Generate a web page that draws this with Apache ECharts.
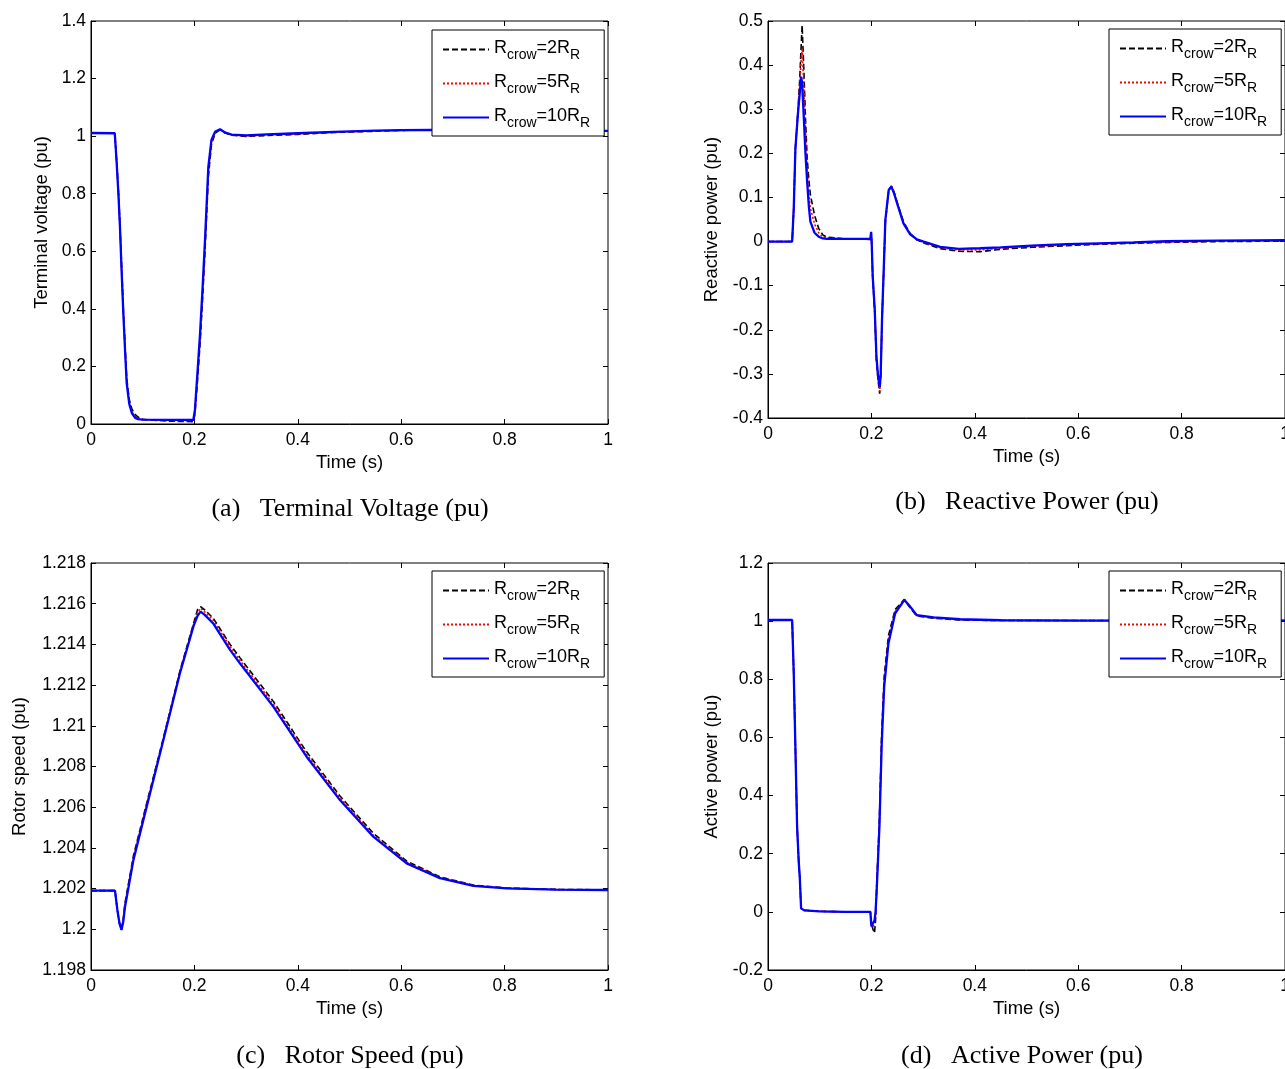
<!DOCTYPE html>
<html>
<head>
<meta charset="utf-8">
<script src="https://cdn.jsdelivr.net/npm/echarts@6/dist/echarts.min.js"></script>
<style>
  html, body { margin: 0; padding: 0; background: #fff; }
  #main { width: 1285px; height: 1069px; }
</style>
</head>
<body>
<div id="main"></div>
<script>
// series names (legend)
var names = ['Rcrow=2RR', 'Rcrow=5RR', 'Rcrow=10RR'];

// (a) terminal voltage
var tV = [0, 0.046, 0.0497, 0.053, 0.056, 0.059, 0.0625, 0.066, 0.069, 0.074,
  0.079, 0.085, 0.091, 0.1, 0.15, 0.198, 0.201, 0.206, 0.211, 0.216,
  0.2205, 0.227, 0.233, 0.24, 0.2495, 0.26, 0.272, 0.3, 0.34, 0.4,
  0.47, 0.55, 0.6, 0.66, 0.75, 0.85, 0.95, 1.0];
var volt2 = [1.011, 1.010, 0.91, 0.81, 0.69, 0.56, 0.40, 0.27, 0.16, 0.085,
  0.052, 0.034, 0.024, 0.016, 0.010, 0.008, 0.035, 0.15, 0.28, 0.44,
  0.60, 0.86, 0.97, 1.01, 1.022, 1.011, 1.003, 0.999, 1.002, 1.006,
  1.013, 1.017, 1.020, 1.021, 1.021, 1.020, 1.019, 1.018];
var volt5 = [1.011, 1.010, 0.91, 0.81, 0.69, 0.55, 0.39, 0.26, 0.15, 0.075,
  0.042, 0.026, 0.019, 0.015, 0.012, 0.011, 0.04, 0.17, 0.30, 0.46,
  0.62, 0.88, 0.98, 1.012, 1.023, 1.012, 1.004, 1.001, 1.004, 1.008,
  1.014, 1.018, 1.020, 1.021, 1.021, 1.020, 1.019, 1.018];
var volt10 = [1.011, 1.010, 0.906, 0.80, 0.685, 0.54, 0.386, 0.25, 0.142, 0.07,
  0.038, 0.022, 0.017, 0.015, 0.014, 0.014, 0.049, 0.18, 0.316, 0.48,
  0.639, 0.894, 0.987, 1.015, 1.024, 1.012, 1.005, 1.003, 1.006, 1.010,
  1.015, 1.019, 1.021, 1.022, 1.021, 1.020, 1.019, 1.018];

// (b) reactive power
var tQ = [0, 0.0467, 0.0498, 0.053, 0.0577, 0.061, 0.064, 0.066, 0.069, 0.0725,
  0.0757, 0.079, 0.082, 0.09, 0.098, 0.106, 0.114, 0.15, 0.198, 0.1995,
  0.2005, 0.2026, 0.2065, 0.2097, 0.213, 0.216, 0.218, 0.2205, 0.2238, 0.227,
  0.2335, 0.2386, 0.2436, 0.2496, 0.262, 0.275, 0.288, 0.301, 0.333, 0.369,
  0.41, 0.45, 0.51, 0.578, 0.64, 0.707, 0.77, 0.87, 1.0];
var react2 = [0, 0, 0.075, 0.211, 0.29, 0.36, 0.44, 0.49, 0.40, 0.28,
  0.19, 0.14, 0.106, 0.06, 0.03, 0.015, 0.01, 0.006, 0.005, 0.02,
  -0.005, -0.085, -0.16, -0.27, -0.315, -0.345, -0.31, -0.18, -0.07, 0.045,
  0.115, 0.126, 0.113, 0.09, 0.045, 0.018, 0.004, -0.003, -0.016, -0.022,
  -0.023, -0.0175, -0.013, -0.0093, -0.006, -0.0039, -0.002, 0.0, 0.001];
var react5 = [0, 0, 0.075, 0.211, 0.29, 0.35, 0.41, 0.435, 0.36, 0.25,
  0.165, 0.11, 0.075, 0.04, 0.02, 0.01, 0.008, 0.006, 0.005, 0.021,
  -0.003, -0.083, -0.158, -0.266, -0.31, -0.34, -0.305, -0.18, -0.067, 0.047,
  0.117, 0.126, 0.112, 0.089, 0.043, 0.017, 0.004, -0.002, -0.014, -0.019,
  -0.019, -0.015, -0.011, -0.0075, -0.005, -0.003, -0.001, 0.001, 0.002];
var react10 = [0, 0, 0.075, 0.211, 0.287, 0.33, 0.374, 0.36, 0.287, 0.2,
  0.136, 0.08, 0.045, 0.02, 0.011, 0.007, 0.006, 0.006, 0.006, 0.022,
  0.0, -0.08, -0.155, -0.261, -0.306, -0.329, -0.30, -0.178, -0.064, 0.049,
  0.117, 0.1245, 0.11, 0.087, 0.041, 0.0165, 0.005, 0.0, -0.012, -0.0165,
  -0.0152, -0.013, -0.0093, -0.006, -0.0039, -0.002, 0.0007, 0.002, 0.003];

// (c) rotor speed
var tW = [0, 0.0464, 0.051, 0.055, 0.059, 0.0625, 0.0658, 0.082, 0.1077, 0.14,
  0.172, 0.198, 0.206, 0.212, 0.22, 0.236, 0.269, 0.288, 0.3527, 0.417,
  0.4816, 0.546, 0.6106, 0.675, 0.7395, 0.804, 0.9, 1.0];
var speed2 = [1.2019, 1.2019, 1.20095, 1.2003, 1.2000, 1.2005, 1.2013, 1.2036, 1.2062, 1.2094,
  1.2127, 1.2150, 1.2157, 1.21585, 1.2157, 1.2153, 1.2140, 1.21335, 1.2112, 1.20872,
  1.20655, 1.20472, 1.20335, 1.20258, 1.20217, 1.20203, 1.20196, 1.20194];
var speed5 = [1.2019, 1.2019, 1.20095, 1.2003, 1.19998, 1.20045, 1.2012, 1.2035, 1.20612, 1.20935,
  1.21264, 1.21495, 1.21555, 1.21578, 1.2156, 1.2152, 1.2139, 1.21322, 1.21107, 1.2086,
  1.20645, 1.20463, 1.2033, 1.20255, 1.20215, 1.20202, 1.20195, 1.20193];
var speed10 = [1.2019, 1.2019, 1.20095, 1.2003, 1.19997, 1.2004, 1.20111, 1.2034, 1.20602, 1.2093,
  1.21258, 1.21487, 1.2154, 1.21561, 1.21545, 1.21504, 1.21373, 1.21307, 1.21094, 1.20848,
  1.20635, 1.20455, 1.20324, 1.20251, 1.20213, 1.20201, 1.20195, 1.20193];

// (d) active power
var tP = [0, 0.0467, 0.0498, 0.0531, 0.0563, 0.0595, 0.0614, 0.064, 0.07, 0.1,
  0.15, 0.198, 0.2, 0.203, 0.206, 0.208, 0.21, 0.2155, 0.22, 0.2247,
  0.233, 0.246, 0.2638, 0.275, 0.2875, 0.3204, 0.372, 0.45, 0.6, 0.8, 1.0];
var power2 = [1.004, 1.004, 0.821, 0.557, 0.293, 0.17, 0.121, 0.014, 0.006, 0.002,
  0.0, 0.0, -0.04, -0.06, -0.073, -0.03, 0.08, 0.32, 0.62, 0.81,
  0.95, 1.04, 1.075, 1.045, 1.018, 1.01, 1.004, 1.002, 1.002, 1.002, 1.002];
var power5 = [1.004, 1.004, 0.821, 0.557, 0.293, 0.17, 0.121, 0.013, 0.005, 0.002,
  0.0, 0.0, -0.045, -0.055, -0.06, -0.02, 0.07, 0.30, 0.60, 0.79,
  0.935, 1.033, 1.074, 1.048, 1.02, 1.012, 1.005, 1.003, 1.002, 1.002, 1.002];
var power10 = [1.004, 1.004, 0.821, 0.557, 0.293, 0.17, 0.121, 0.012, 0.005, 0.002,
  0.0, 0.0, -0.05, -0.045, -0.03, 0.0, 0.064, 0.293, 0.58, 0.775,
  0.924, 1.027, 1.073, 1.05, 1.021, 1.013, 1.0065, 1.003, 1.002, 1.002, 1.002];

var legendText = {
  'Rcrow=2RR': '{m|R}{s|crow}{m|=2R}{s|R}',
  'Rcrow=5RR': '{m|R}{s|crow}{m|=5R}{s|R}',
  'Rcrow=10RR': '{m|R}{s|crow}{m|=10R}{s|R}'
};

var font = 'Liberation Sans';
var panels = [
  {t: tV, ys: [volt2, volt5, volt10], grid: {left: 91, top: 21, width: 517, height: 403},
   ymin: 0, ymax: 1.4, yint: 0.2, yname: 'Terminal voltage (pu)', ygap: 40, leg: {left: 432, top: 30}},
  {t: tQ, ys: [react2, react5, react10], grid: {left: 768, top: 21, width: 517, height: 397},
   ymin: -0.4, ymax: 0.5, yint: 0.1, yname: 'Reactive power (pu)', ygap: 47, leg: {left: 1109, top: 29}},
  {t: tW, ys: [speed2, speed5, speed10], grid: {left: 91, top: 563, width: 517, height: 407},
   ymin: 1.198, ymax: 1.218, yint: 0.002, yname: 'Rotor speed (pu)', ygap: 62, leg: {left: 432, top: 571}},
  {t: tP, ys: [power2, power5, power10], grid: {left: 768, top: 563, width: 517, height: 407},
   ymin: -0.2, ymax: 1.2, yint: 0.2, yname: 'Active power (pu)', ygap: 47, leg: {left: 1109, top: 571}}
];

var lineStyles = [
  {color: '#000', width: 1.6, type: [6, 3]},
  {color: '#ff0000', width: 1.6, type: [2, 2]},
  {color: '#0000ff', width: 2.3, type: 'solid'}
];

var fmt = function (v) { return String(Math.round(v * 1e6) / 1e6); };

var grids = [], xAxes = [], yAxes = [], series = [], legends = [];
var tickStyle = {inside: true, length: 5, lineStyle: {color: '#000', width: 1}};
var labelFont = {fontFamily: font, fontSize: 17.5, color: '#000'};
var nameFont = {fontFamily: font, fontSize: 18.5, color: '#000'};

panels.forEach(function (p, i) {
  grids.push(Object.assign({show: true, borderColor: '#000', borderWidth: 1,
    containLabel: false, outerBoundsMode: 'none'}, p.grid));
  xAxes[i] = {
    gridIndex: i, type: 'value', min: 0, max: 1, interval: 0.2, position: 'bottom',
    name: 'Time (s)', nameLocation: 'middle', nameGap: 29,
    nameTextStyle: nameFont,
    axisLine: {show: true, onZero: false, lineStyle: {color: '#000'}},
    axisTick: tickStyle,
    axisLabel: Object.assign({margin: 7, formatter: fmt}, labelFont),
    splitLine: {show: false}
  };
  xAxes[i + 4] = {
    gridIndex: i, type: 'value', min: 0, max: 1, interval: 0.2, position: 'top',
    axisLine: {show: false, onZero: false}, axisTick: tickStyle, axisLabel: {show: false}, splitLine: {show: false}
  };
  yAxes[i] = {
    gridIndex: i, type: 'value', min: p.ymin, max: p.ymax, interval: p.yint, position: 'left',
    name: p.yname, nameLocation: 'middle', nameGap: p.ygap,
    nameTextStyle: nameFont,
    axisLine: {show: true, onZero: false, lineStyle: {color: '#000'}},
    axisTick: tickStyle,
    axisLabel: Object.assign({margin: 5, formatter: fmt}, labelFont),
    splitLine: {show: false}
  };
  yAxes[i + 4] = {
    gridIndex: i, type: 'value', min: p.ymin, max: p.ymax, interval: p.yint, position: 'right',
    axisLine: {show: false, onZero: false}, axisTick: tickStyle, axisLabel: {show: false}, splitLine: {show: false}
  };
  p.ys.forEach(function (vals, k) {
    series.push({
      type: 'line', name: names[k], xAxisIndex: i, yAxisIndex: i,
      symbol: 'none', silent: true, z: 2,
      lineStyle: lineStyles[k],
      data: p.t.map(function (t, j) { return [t, vals[j]]; })
    });
  });
  legends.push({
    orient: 'vertical', left: p.leg.left, top: p.leg.top, z: 10,
    padding: [7, 14, 6, 10], itemWidth: 46, itemHeight: 12, itemGap: 9, itemTextGap: 8,
    borderColor: '#000', borderWidth: 1, backgroundColor: '#fff',
    itemStyle: {opacity: 0},
    selectedMode: false, data: names,
    formatter: function (n) { return legendText[n]; },
    textStyle: {
      rich: {
        m: {fontFamily: font, fontSize: 18, color: '#000', lineHeight: 20, verticalAlign: 'top'},
        s: {fontFamily: font, fontSize: 14, color: '#000', lineHeight: 14, padding: [11, 0, 0, 0]}
      }
    }
  });
});

var captions = [
  {x: 350, y: 509, text: '(a)   Terminal Voltage (pu)'},
  {x: 1027, y: 502, text: '(b)   Reactive Power (pu)'},
  {x: 350, y: 1056, text: '(c)   Rotor Speed (pu)'},
  {x: 1022, y: 1056, text: '(d)   Active Power (pu)'}
];

var chart = echarts.init(document.getElementById('main'));
chart.setOption({
  animation: false,
  backgroundColor: '#fff',
  grid: grids,
  xAxis: xAxes,
  yAxis: yAxes,
  legend: legends,
  series: series,
  graphic: captions.map(function (c) {
    return {
      type: 'text', x: c.x, y: c.y,
      style: {text: c.text, fill: '#000', font: '26px "Liberation Serif"', align: 'center', verticalAlign: 'middle'}
    };
  })
});
</script>
</body>
</html>
